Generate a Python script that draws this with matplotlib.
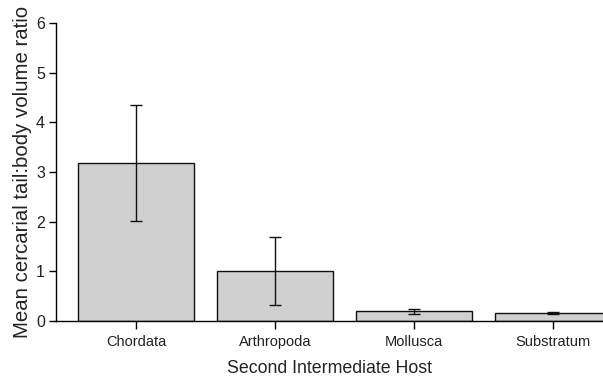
import matplotlib
matplotlib.use("Agg")
import matplotlib.pyplot as plt

plt.rcParams['font.family'] = ['Liberation Sans', 'DejaVu Sans']

hosts = ['Chordata', 'Arthropoda', 'Mollusca', 'Substratum']
means = [3.18, 1.01, 0.20, 0.17]
err_low = [1.16, 0.68, 0.05, 0.02]
err_high = [1.16, 0.68, 0.05, 0.02]

fig = plt.figure(figsize=(6.03, 3.82), dpi=100)
ax = fig.add_axes([0.0929, 0.1597, 0.9071, 0.7801])

x = range(len(hosts))
ax.bar(x, means, width=0.83, color='#d0d0d0', edgecolor='#111111', linewidth=1.0, zorder=2)
ax.errorbar(x, means, yerr=[err_low, err_high], fmt='none', ecolor='#111111',
            elinewidth=1.0, capsize=4.5, capthick=1.0, zorder=3)

ax.set_xlim(-0.575, 3.36)
ax.set_ylim(0, 6)
ax.set_yticks(range(0, 7))
ax.set_xticks(list(x))
ax.set_xticklabels(hosts)

for s in ['top', 'right']:
    ax.spines[s].set_visible(False)
ax.spines['left'].set_linewidth(1.0)
ax.spines['bottom'].set_linewidth(1.0)
ax.tick_params(axis='y', direction='out', length=5, width=1, labelsize=11.5, pad=3,
               labelcolor='#222222')
ax.tick_params(axis='x', direction='out', length=6, width=1, labelsize=10.5, pad=4,
               labelcolor='#222222')

ax.set_ylabel('Mean cercarial tail:body volume ratio', fontsize=14.7, labelpad=3,
              color='#222222')
ax.set_xlabel('Second Intermediate Host', fontsize=12.8, labelpad=8, color='#222222')

fig.savefig('out.png', dpi=100)
